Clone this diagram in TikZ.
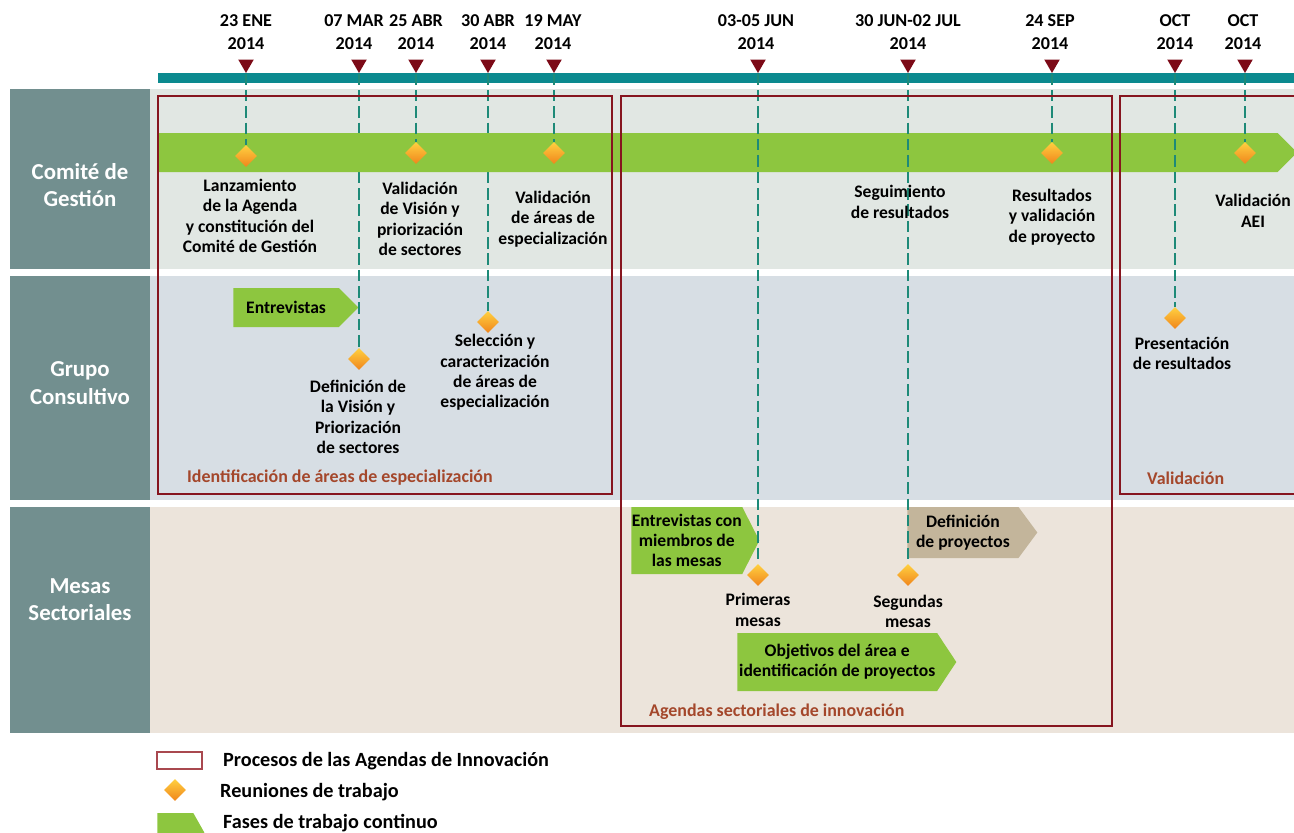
\documentclass[tikz,border=0pt]{standalone}
\usepackage{fontspec}
\setmainfont{Carlito}
\usetikzlibrary{shapes.geometric,shapes.symbols}

\definecolor{lanehead}{HTML}{728F8F}
\definecolor{laneone}{HTML}{E1E7E3}
\definecolor{lanetwo}{HTML}{D7DEE4}
\definecolor{lanethree}{HTML}{ECE4DB}
\definecolor{timebar}{HTML}{0B8A8F}
\definecolor{markred}{HTML}{7C0A17}
\definecolor{guideteal}{HTML}{1E8A78}
\definecolor{phasegreen}{HTML}{8DC63F}
\definecolor{phasetan}{HTML}{C3B59B}
\definecolor{procred}{HTML}{86151F}
\definecolor{procbrown}{HTML}{A4472B}
\definecolor{legendred}{HTML}{A9484F}
\definecolor{meettop}{HTML}{FFD040}
\definecolor{meetbot}{HTML}{F0851C}

\tikzstyle{lanelabel}=[text=white,
    align=center,
    font=\bfseries\fontsize{13}{15.5}\selectfont]
\tikzstyle{datelabel}=[align=center,
    font=\bfseries\fontsize{10.3}{13}\selectfont]
\tikzstyle{marker}=[regular polygon,
    regular polygon sides=3,
    shape border rotate=180,
    fill=markred,
    inner sep=0pt,
    minimum size=0.36cm]
\tikzstyle{meeting}=[diamond,
    inner sep=0pt,
    minimum width=0.44cm,
    minimum height=0.44cm,
    top color=meettop,
    bottom color=meetbot]
\tikzstyle{phase}=[signal,
    signal to=east,
    fill=phasegreen,
    inner sep=0pt,
    anchor=west,
    align=center,
    font=\bfseries\fontsize{10}{11.6}\selectfont]
\tikzstyle{desc}=[align=center,
    font=\bfseries\fontsize{10}{11.6}\selectfont]
\tikzstyle{guide}=[draw=guideteal,
    line width=1.1pt,
    dash pattern=on 6.5pt off 2.8pt]
\tikzstyle{process}=[draw=procred, line width=1.4pt]
\tikzstyle{proclabel}=[text=procbrown,
    anchor=west,
    font=\bfseries\fontsize{10.2}{13}\selectfont]
\tikzstyle{legend}=[anchor=west,
    font=\bfseries\fontsize{11.5}{13}\selectfont]

\begin{document}
\begin{tikzpicture}[x=0.02cm, y=-0.02cm]
            \useasboundingbox (0,0) rectangle (1294,832);

            % lanes
            \fill[laneone] (150,89) rectangle (1294,269);
            \fill[lanetwo] (150,276) rectangle (1294,500);
            \fill[lanethree] (150,507) rectangle (1294,733);
            \fill[lanehead] (10,89) rectangle (150,269);
            \fill[lanehead] (10,276) rectangle (150,500);
            \fill[lanehead] (10,507) rectangle (150,733);
            \node (comite) [lanelabel] at (80,185) {Comité de\\Gestión};
            \node (grupo) [lanelabel] at (80,383) {Grupo\\Consultivo};
            \node (mesas) [lanelabel] at (80,600) {Mesas\\Sectoriales};

            % timeline
            \fill[timebar] (158,73) rectangle (1294,83);
            \node (m1) [marker] at (246,64) {};
            \node (m2) [marker] at (359,64) {};
            \node (m3) [marker] at (416,64) {};
            \node (m4) [marker] at (488,64) {};
            \node (m5) [marker] at (554,64) {};
            \node (m6) [marker] at (758,64) {};
            \node (m7) [marker] at (908,64) {};
            \node (m8) [marker] at (1052,64) {};
            \node (m9) [marker] at (1175,64) {};
            \node (m10) [marker] at (1245,64) {};
            \node (t1) [datelabel] at (246,32) {23 ENE\\2014};
            \node (t2) [datelabel] at (354,32) {07 MAR\\2014};
            \node (t3) [datelabel] at (416,32) {25 ABR\\2014};
            \node (t4) [datelabel] at (488,32) {30 ABR\\2014};
            \node (t5) [datelabel] at (553,32) {19 MAY\\2014};
            \node (t6) [datelabel] at (756,32) {03-05 JUN\\2014};
            \node (t7) [datelabel] at (908,32) {30 JUN-02 JUL\\2014};
            \node (t8) [datelabel] at (1050,32) {24 SEP\\2014};
            \node (t9) [datelabel] at (1175,32) {OCT\\2014};
            \node (t10) [datelabel] at (1243,32) {OCT\\2014};

            % phases in the lower lanes
            \node (entrev) [phase, minimum width=2.5cm, minimum height=0.78cm] at (233,307.5) {Entrevistas};
            \node (entrevcon) [phase, signal pointer angle=126, minimum width=2.56cm, minimum height=1.34cm] at (631,540.5) {Entrevistas con\\miembros de\\las mesas};
            \node (defproy) [phase, fill=phasetan, signal pointer angle=107, minimum width=2.6cm, minimum height=1.02cm] at (907,532.5) {Definición\\de proyectos};
            \node (objetivos) [phase, signal pointer angle=113, minimum width=4.38cm, minimum height=1.16cm] at (737,662) {Objetivos del área e\\identificación de proyectos};

            \node (r2a) [meeting] at (359,359) {};
            \node (r2b) [meeting] at (488,322) {};
            \node (r2c) [meeting] at (1175,318) {};
            \node (r3a) [meeting] at (758,575) {};
            \node (r3b) [meeting] at (908,575) {};
            \draw[guide] (m2.south) -- (r2a.north);
            \draw[guide] (m4.south) -- (r2b.north);

            % continuous phase of the committee
            \node (band) [phase, minimum width=22.78cm, minimum height=0.78cm] at (158,152.5) {};
            \node (r1a) [meeting] at (246,156) {};
            \node (r1b) [meeting] at (416,153) {};
            \node (r1c) [meeting] at (554,153) {};
            \node (r1d) [meeting] at (1052,153) {};
            \node (r1e) [meeting] at (1245,153) {};
            \draw[guide] (m1.south) -- (r1a.north);
            \draw[guide] (m3.south) -- (r1b.north);
            \draw[guide] (m5.south) -- (r1c.north);
            \draw[guide] (m6.south) -- (r3a.north);
            \draw[guide] (m7.south) -- (r3b.north);
            \draw[guide] (m8.south) -- (r1d.north);
            \draw[guide] (m9.south) -- (r2c.north);
            \draw[guide] (m10.south) -- (r1e.north);

            % processes
            \draw[process] (158,96) rectangle (612,494);
            \draw[process] (621,96) rectangle (1112,726);
            \draw[process] (1120,96) rectangle (1310,494);
            \node (p1) [proclabel] at (181,478) {Identificación de áreas de especialización};
            \node (p2) [proclabel] at (643,712) {Agendas sectoriales de innovación};
            \node (p3) [proclabel] at (1141,478) {Validación};

            % descriptions
            \node (d1) [desc] at (250,216) {Lanzamiento\\de la Agenda\\y constitución del\\Comité de Gestión};
            \node (d2) [desc] at (420,219) {Validación\\de Visión y\\priorización\\de sectores};
            \node (d3) [desc] at (553,219) {Validación\\de áreas de\\especialización};
            \node (d4) [desc] at (900,202) {Seguimiento\\de resultados};
            \node (d5) [desc] at (1052,217) {Resultados\\y validación\\de proyecto};
            \node (d6) [desc] at (1253,211) {Validación\\AEI};
            \node (d7) [desc] at (358,417) {Definición de\\la Visión y\\Priorización\\de sectores};
            \node (d8) [desc] at (495,372.5) {Selección y\\caracterización\\de áreas de\\especialización};
            \node (d9) [desc] at (1182,353.5) {Presentación\\de resultados};
            \node (d10) [desc] at (758,610) {Primeras\\mesas};
            \node (d11) [desc] at (908,611.5) {Segundas\\mesas};

            % legend
            \draw[draw=legendred, line width=1.2pt] (157,752) rectangle (202,769);
            \node (lg2) [meeting] at (175,790) {};
            \node (lg3) [phase, signal pointer angle=121, minimum width=0.94cm, minimum height=0.78cm] at (157,832.5) {};
            \node (l1) [legend] at (217,761) {Procesos de las Agendas de Innovación};
            \node (l2) [legend] at (214,792) {Reuniones de trabajo};
            \node (l3) [legend] at (217,823) {Fases de trabajo continuo};

        \end{tikzpicture}
\end{document}
